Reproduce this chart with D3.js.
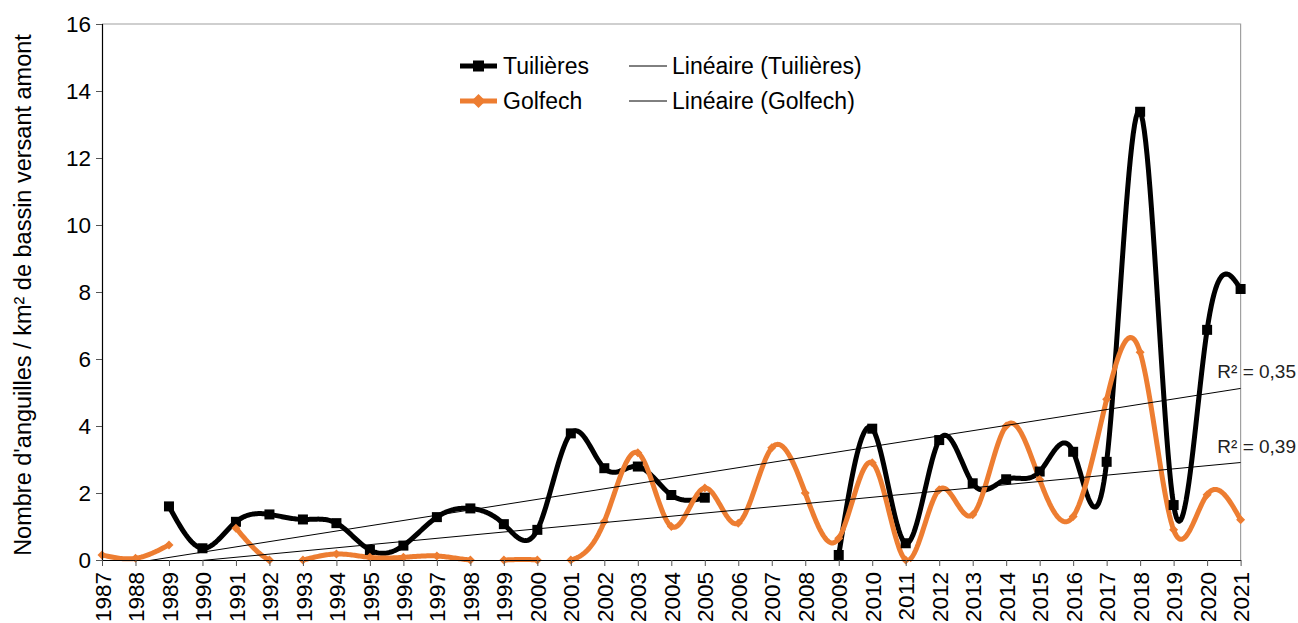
<!DOCTYPE html>
<html>
<head>
<meta charset="utf-8">
<script src="https://cdn.jsdelivr.net/npm/d3@7/dist/d3.min.js"></script>
<style>
  body { margin: 0; background: #fff; }
  svg { display: block; }
  text { font-family: "Liberation Sans", Arial, sans-serif; fill: #000; }
</style>
</head>
<body>
<svg id="chart" width="1298" height="623"></svg>
<script>
// Years on the category axis
const years = d3.range(1987, 2022).map(String);

// Eels per km² of upstream catchment (null = no count that year)
const tuilieres = [null, null, 1.6, 0.35, 1.14, 1.36, 1.21, 1.1, 0.3, 0.43,
  1.28, 1.54, 1.07, 0.9, 3.78, 2.74, 2.79, 1.94, 1.86, null,
  null, null, 0.15, 3.92, 0.5, 3.58, 2.29, 2.41, 2.64, 3.23,
  2.93, 13.38, 1.64, 6.87, 8.09];
const golfech = [0.15, 0.05, 0.45, null, 0.95, 0, 0, 0.18, 0.08, 0.08,
  0.12, 0, 0, 0, 0, 1.15, 3.2, 1.0, 2.15, 1.1,
  3.35, 2.0, 0.65, 2.9, 0, 2.1, 1.35, 4.0, 2.4, 1.3,
  4.8, 6.2, 0.9, 1.95, 1.2];

// Coefficients of determination shown next to the linear trends
const r2Values = [0.35, 0.39];

const yTicks = [0, 2, 4, 6, 8, 10, 12, 14, 16];
const seriesNames = ["Tuilières", "Golfech"];
const trendNames = ["Linéaire (Tuilières)", "Linéaire (Golfech)"];

const W = 1298, H = 623;
const plotL = 102, plotR = 1240.6, plotT = 24, plotB = 560;
const ORANGE = "#ED7D31";

const svg = d3.select("#chart");
svg.append("rect").attr("width", W).attr("height", H).attr("fill", "#fff");

const x = d3.scalePoint().domain(years).range([plotL, plotR]);
// Continuous twin of the category scale, used for the smoothed curves
const xi = d3.scaleLinear().domain([0, years.length - 1]).range([plotL, plotR]);
const y = d3.scaleLinear().domain([0, 16]).range([plotB, plotT]);

const defs = svg.append("defs");
defs.append("clipPath").attr("id", "plot-clip")
  .append("rect").attr("x", plotL).attr("y", plotT)
  .attr("width", plotR - plotL + 1).attr("height", plotB - plotT);
// Curves are cut in data space, so their stroke may spill past the axis
defs.append("clipPath").attr("id", "curve-clip")
  .append("rect").attr("x", plotL - 4).attr("y", plotT)
  .attr("width", plotR - plotL + 8).attr("height", plotB - plotT + 4);

// Plot frame: grey top and right edges
svg.append("path")
  .attr("d", `M${plotL},${plotT}H${plotR}V${plotB}`)
  .attr("fill", "none").attr("stroke", "#a0a0a0").attr("stroke-width", 1.2);

// Least-squares line on the category index (1..n), blanks skipped
function linearFit(values) {
  const pts = values.map((v, i) => [i + 1, v]).filter(d => d[1] != null);
  const mx = d3.mean(pts, d => d[0]), my = d3.mean(pts, d => d[1]);
  const sxy = d3.sum(pts, d => (d[0] - mx) * (d[1] - my));
  const sxx = d3.sum(pts, d => (d[0] - mx) ** 2);
  const slope = sxy / sxx;
  return { slope, intercept: my - slope * mx };
}

// Natural cubic spline through each unbroken run of values, sampled in
// data space and cut where it drops below the value axis minimum (0)
function smoothedSamples(values, steps = 24) {
  const runs = [];
  let cur = [];
  values.forEach((v, i) => {
    if (v == null) { if (cur.length) runs.push(cur); cur = []; }
    else cur.push([i, v]);
  });
  if (cur.length) runs.push(cur);

  const out = [];
  runs.forEach(run => {
    const n = run.length;
    const ys = run.map(d => d[1]);
    const M = new Array(n).fill(0);
    if (n > 2) {
      // tridiagonal solve for the second derivatives (unit spacing)
      const m = n - 2, a = [], b = [], c = [], r = [];
      for (let k = 0; k < m; k++) {
        a.push(1); b.push(4); c.push(1);
        r.push(6 * (ys[k + 2] - 2 * ys[k + 1] + ys[k]));
      }
      for (let k = 1; k < m; k++) {
        const w = a[k] / b[k - 1];
        b[k] -= w * c[k - 1];
        r[k] -= w * r[k - 1];
      }
      const sol = new Array(m);
      sol[m - 1] = r[m - 1] / b[m - 1];
      for (let k = m - 2; k >= 0; k--) sol[k] = (r[k] - c[k] * sol[k + 1]) / b[k];
      for (let k = 0; k < m; k++) M[k + 1] = sol[k];
    }
    const pts = [];
    for (let k = 0; k < n - 1; k++) {
      for (let s = 0; s < steps; s++) {
        const t = s / steps, u = 1 - t;
        const v = u * ys[k] + t * ys[k + 1] +
          ((u * u * u - u) * M[k] + (t * t * t - t) * M[k + 1]) / 6;
        pts.push([run[k][0] + t, v]);
      }
    }
    pts.push([run[n - 1][0], ys[n - 1]]);

    // split at the zero line, inserting the crossing points
    for (let k = 0; k < pts.length; k++) {
      const p = pts[k];
      if (k > 0) {
        const q = pts[k - 1];
        if ((q[1] >= 0) !== (p[1] >= 0)) {
          const f = q[1] / (q[1] - p[1]);
          const cross = { i: q[0] + f * (p[0] - q[0]), v: 0 };
          if (p[1] < 0) { out.push(cross); out.push({ i: p[0], v: null }); }
          else { out.push(cross); }
        }
      }
      if (p[1] >= 0) out.push({ i: p[0], v: p[1] });
      else if (k === 0) out.push({ i: p[0], v: null });
    }
    out.push({ i: run[n - 1][0], v: null });
  });
  return out;
}

const series = [
  { name: seriesNames[0], values: tuilieres, color: "#000", marker: "square" },
  { name: seriesNames[1], values: golfech, color: ORANGE, marker: "diamond" }
];

const plot = svg.append("g").attr("clip-path", "url(#curve-clip)");

const line = d3.line()
  .defined(d => d.v != null)
  .x(d => xi(d.i))
  .y(d => y(d.v));

series.forEach(s => {
  plot.append("path")
    .datum(smoothedSamples(s.values))
    .attr("d", line)
    .attr("fill", "none")
    .attr("stroke", s.color)
    .attr("stroke-width", 5)
    .attr("stroke-linejoin", "round");
  s.data = years.map((yr, i) => ({ year: yr, v: s.values[i] }));
});

// Markers
const markers = svg.append("g");
series.forEach(s => {
  const pts = s.data.filter(d => d.v != null);
  if (s.marker === "square") {
    markers.selectAll(null).data(pts).enter().append("rect")
      .attr("x", d => x(d.year) - 5).attr("y", d => y(d.v) - 5)
      .attr("width", 10).attr("height", 10).attr("fill", s.color);
  } else {
    markers.selectAll(null).data(pts).enter().append("path")
      .attr("d", d => {
        const cx = x(d.year), cy = y(d.v), r = 4.5;
        return `M${cx},${cy - r}L${cx + r},${cy}L${cx},${cy + r}L${cx - r},${cy}Z`;
      })
      .attr("fill", s.color);
  }
});

// Linear trend lines
const trendLayer = svg.append("g").attr("clip-path", "url(#plot-clip)");
series.forEach((s, k) => {
  const fit = linearFit(s.values);
  const ends = [0, years.length - 1].map(i => ({ year: years[i], v: fit.intercept + fit.slope * (i + 1) }));
  trendLayer.append("line")
    .attr("x1", x(ends[0].year)).attr("y1", y(ends[0].v))
    .attr("x2", x(ends[1].year)).attr("y2", y(ends[1].v))
    .attr("stroke", "#000").attr("stroke-width", 1);
  svg.append("text")
    .attr("x", W - 2)
    .attr("y", y(ends[1].v) - 10)
    .attr("text-anchor", "end")
    .style("font-size", "19px")
    .style("fill", "#222")
    .text("R² = " + d3.format(".2f")(r2Values[k]).replace(".", ","));
});

// Axes
const yAxis = svg.append("g").attr("transform", `translate(${plotL},0)`)
  .call(d3.axisLeft(y).tickValues(yTicks).tickSize(6).tickPadding(5).tickFormat(d3.format("d")));
yAxis.select(".domain").attr("stroke", "#000").attr("stroke-width", 1.2);
yAxis.selectAll(".tick line").attr("stroke", "#555");
yAxis.selectAll("text").style("font-size", "22.5px").attr("font-family", null);

const xAxis = svg.append("g").attr("transform", `translate(0,${plotB})`)
  .call(d3.axisBottom(x).tickSize(6).tickSizeOuter(0));
xAxis.select(".domain").attr("stroke", "#000").attr("stroke-width", 1.2);
xAxis.selectAll(".tick line").attr("stroke", "#555");
xAxis.selectAll("text")
  .style("font-size", "22.5px")
  .attr("font-family", null)
  .attr("text-anchor", "end")
  .attr("transform", "rotate(-90)")
  .attr("x", -12)
  .attr("y", 0)
  .attr("dy", "0.36em");

// Y axis title
svg.append("text")
  .attr("transform", `translate(31,${(plotT + plotB) / 2 + 3}) rotate(-90)`)
  .attr("text-anchor", "middle")
  .style("font-size", "23.5px")
  .text("Nombre d'anguilles / km² de bassin versant amont");

// Legend
const legend = svg.append("g");
const rows = [66, 101];
series.forEach((s, k) => {
  const cy = rows[k];
  legend.append("line").attr("x1", 460).attr("x2", 497).attr("y1", cy).attr("y2", cy)
    .attr("stroke", s.color).attr("stroke-width", 5);
  if (s.marker === "square") {
    legend.append("rect").attr("x", 473).attr("y", cy - 5.5).attr("width", 11).attr("height", 11).attr("fill", s.color);
  } else {
    legend.append("path").attr("d", `M478.5,${cy - 7}L485.5,${cy}L478.5,${cy + 7}L471.5,${cy}Z`).attr("fill", s.color);
  }
  legend.append("text").attr("x", 503).attr("y", cy).attr("dy", "0.36em")
    .style("font-size", "23px").text(s.name);
  legend.append("line").attr("x1", 629).attr("x2", 667).attr("y1", cy).attr("y2", cy)
    .attr("stroke", "#000").attr("stroke-width", 1);
  legend.append("text").attr("x", 672).attr("y", cy).attr("dy", "0.36em")
    .style("font-size", "23px").text(trendNames[k]);
});
</script>
</body>
</html>
